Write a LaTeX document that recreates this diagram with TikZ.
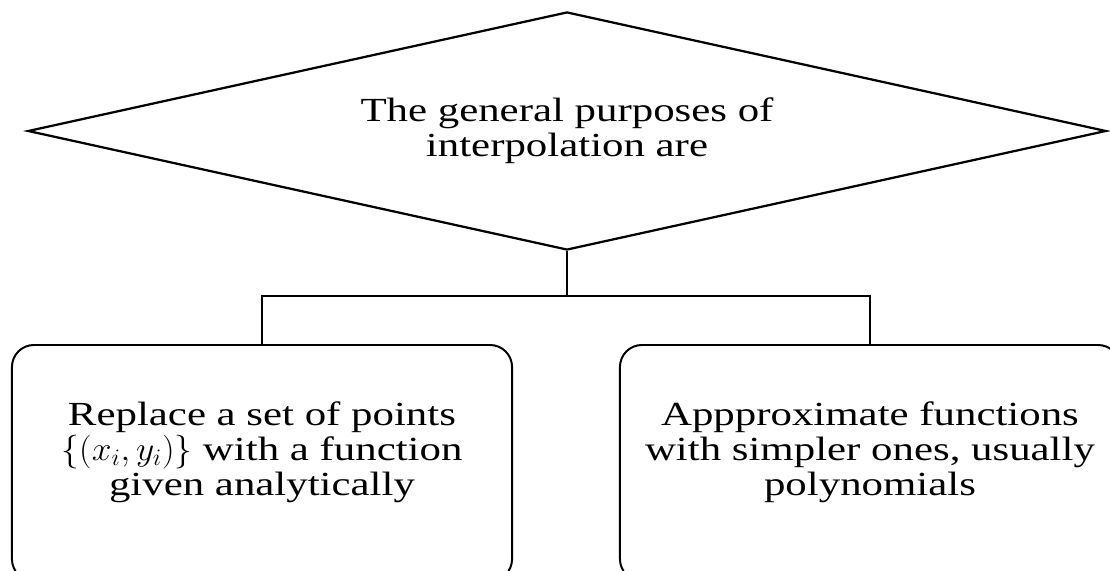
\documentclass[tikz,border=0pt]{standalone}
\usepackage{fix-cm}
\usepackage{graphicx}
\usepackage{fontspec}
\setmainfont{Liberation Serif}[FakeStretch=1.27]
\usetikzlibrary{shapes.geometric}

\begin{document}
\begin{tikzpicture}[x=0.025cm,y=-0.025cm,
		every node/.style={font=\fontsize{24}{25}\selectfont, align=center},
		ask/.style={diamond, draw, line width=1.6pt, aspect=4.53, minimum width=26.95cm, minimum height=5.95cm, inner sep=0pt},
		purpose/.style={rectangle, draw, line width=1.4pt, rounded corners=0.55cm, minimum width=12.5cm, minimum height=5.9cm, anchor=north},
		link/.style={line width=0.8pt}]
		\useasboundingbox (0,0) rectangle (1110,571);
		\clip (0,0) rectangle (1110,571);
		\node[ask] (general) at (567,131) {The general purposes of\\ interpolation are};
		\coordinate (split) at (567,296);
		\node[purpose] (replace) at (262,344) {};
		\node[purpose] (approx) at (870,344) {};
		\node (replacetext) at (262,452) {Replace a set of points\\ \scalebox{1.05}[1]{$\{(x_i,y_i)\}$} with a function\\ given analytically};
		\node (approxtext) at (870,452) {Appproximate functions\\ with simpler ones, usually\\ polynomials};
		\draw[link] (general.south) -- (split);
		\draw[link] (split) -| (replace.north);
		\draw[link] (split) -| (approx.north);
\end{tikzpicture}
\end{document}
